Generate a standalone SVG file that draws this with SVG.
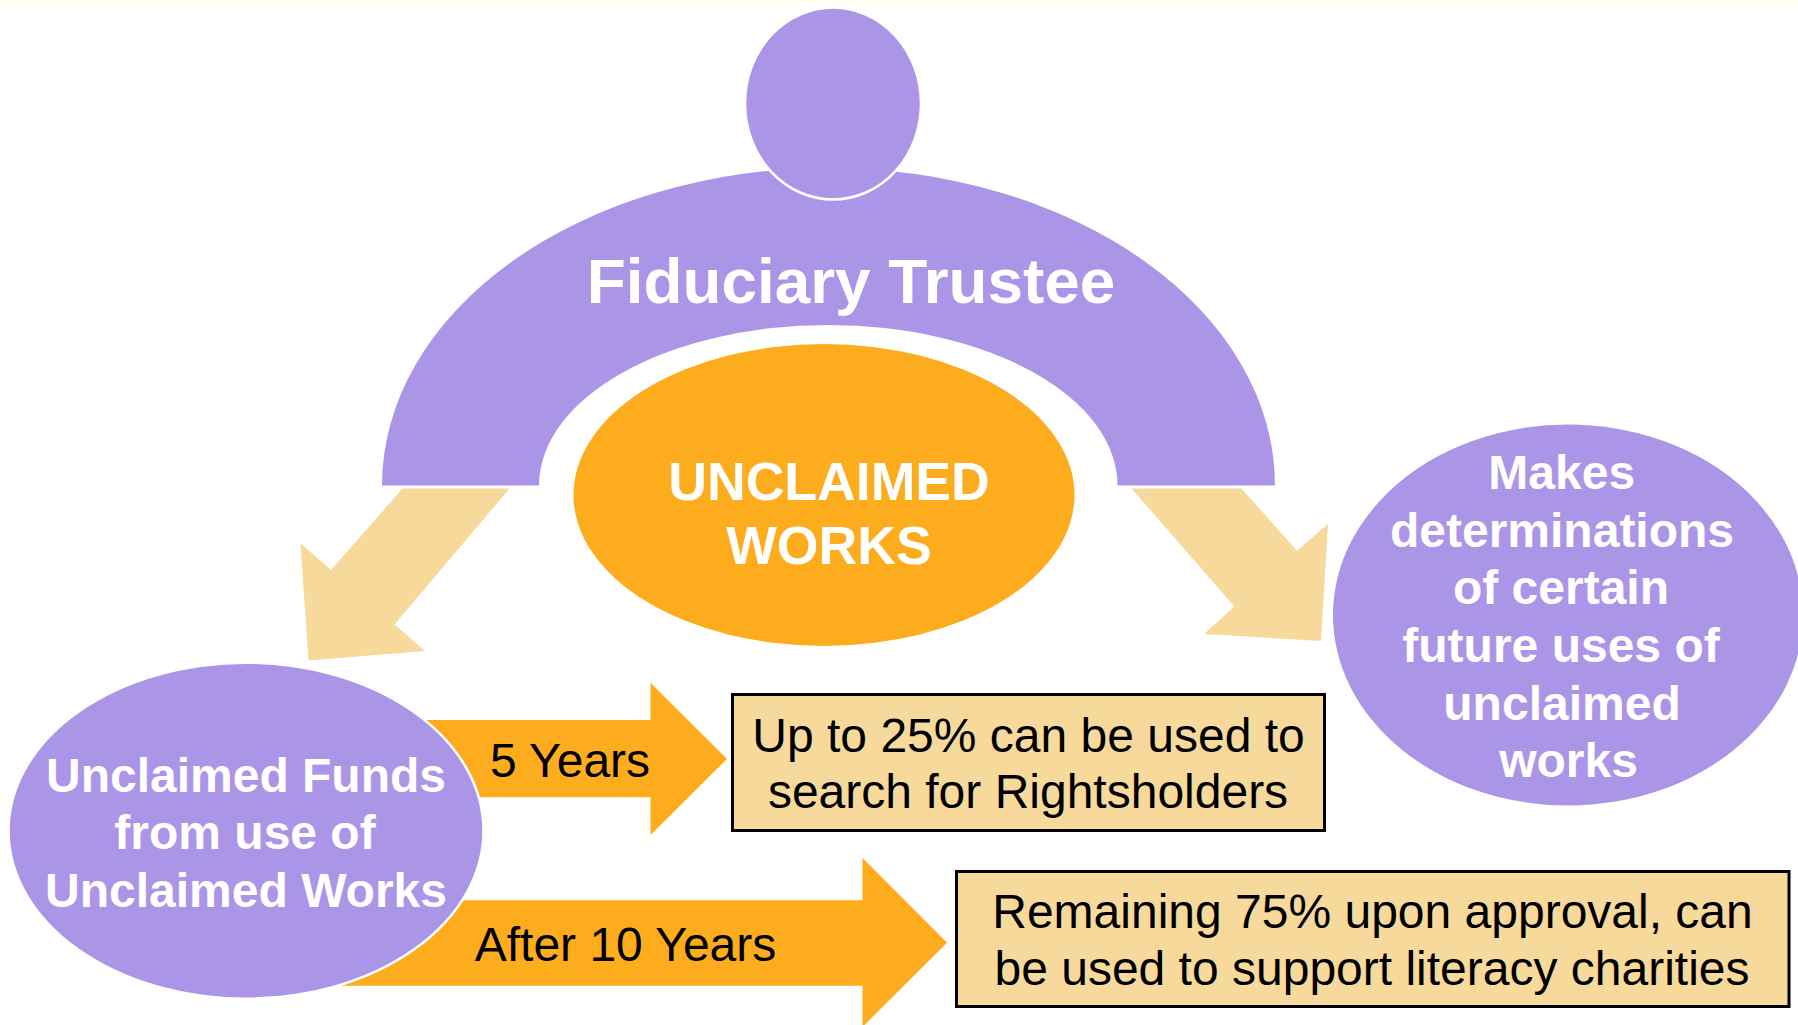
<svg xmlns="http://www.w3.org/2000/svg" width="1798" height="1025" viewBox="0 0 1798 1025">
<style>
text{font-family:"Liberation Sans",Arial,sans-serif;text-anchor:middle}
.w{fill:#fff;font-weight:bold}
.k{fill:#000;font-size:48px}
.p{fill:#AB95E6}
.o{fill:#FDAC1D}
.t{fill:#F6D99B}
.h{stroke:#fff;stroke-width:2.5}
.b{fill:#F6D99B;stroke:#000;stroke-width:3}
</style>
<defs>
<linearGradient id="edge" x1="0" y1="0" x2="0" y2="1"><stop offset="0" stop-color="#FFFFEE"/><stop offset="1" stop-color="#FFFFFF"/></linearGradient>
</defs>
<rect width="1798" height="1025" fill="#fff"/>
<rect width="1798" height="6" fill="url(#edge)"/>
<g id="connectors">
<polygon class="t" points="402.5,488.5 509.5,488.5 394.5,624.5 425,651 308.5,660.5 300.5,543.5 331,570"/>
<polygon class="t" points="1131.5,488.5 1241.5,488.5 1297,550.7 1328,524 1321,641 1204,634 1234.4,606.5"/>
<polygon class="o" points="400,720 650.5,720 650.5,682.7 727,759 650.5,835 650.5,797.3 400,797.3"/>
<polygon class="o" points="320,900.3 862.5,900.3 862.5,858 947,942.7 862.5,1027 862.5,985.7 320,985.7"/>
</g>
<g id="trustee">
<path class="p" d="M382,485.5 A446.5,317.5 0 0 1 1275,485.5 L1117.5,485.5 A289.25,160.5 0 0 0 539,485.5 Z"/>
<ellipse class="p h" cx="833" cy="103.5" rx="88" ry="96"/>
<text class="w" x="851" y="302.5" font-size="63.8">Fiduciary Trustee</text>
</g>
<g id="unclaimed-works">
<ellipse class="o" cx="824" cy="495" rx="250.5" ry="151"/>
<text class="w" x="829" y="500" font-size="53.6">UNCLAIMED</text>
<text class="w" x="829" y="564" font-size="53.6">WORKS</text>
</g>
<g id="determinations">
<ellipse class="p" cx="1568" cy="615" rx="235" ry="190.5"/>
<text class="w" x="1561.7" y="488.5" font-size="48">Makes</text>
<text class="w" x="1562" y="546.5" font-size="48">determinations</text>
<text class="w" x="1561" y="604" font-size="48">of certain</text>
<text class="w" x="1561" y="662" font-size="48">future uses of</text>
<text class="w" x="1562" y="719.5" font-size="48">unclaimed</text>
<text class="w" x="1568.5" y="776.5" font-size="48">works</text>
</g>
<g id="unclaimed-funds">
<ellipse class="p h" cx="246" cy="830.7" rx="237.5" ry="168"/>
<text class="w" x="246" y="791.7" font-size="48">Unclaimed Funds</text>
<text class="w" x="245" y="848.7" font-size="48">from use of</text>
<text class="w" x="246" y="907" font-size="48">Unclaimed Works</text>
</g>
<g id="label-5-years"><text class="k" x="570" y="776.7">5 Years</text></g>
<g id="label-10-years"><text class="k" x="625.5" y="960.7">After 10 Years</text></g>
<g id="box-25">
<rect class="b" x="732.5" y="694.5" width="592" height="136"/>
<text class="k" x="1028.5" y="752">Up to 25% can be used to</text>
<text class="k" x="1028" y="808">search for Rightsholders</text>
</g>
<g id="box-75">
<rect class="b" x="956.5" y="871.5" width="832.5" height="135"/>
<text class="k" x="1372.5" y="927.5">Remaining 75% upon approval, can</text>
<text class="k" x="1372" y="984.5">be used to support literacy charities</text>
</g>
</svg>
